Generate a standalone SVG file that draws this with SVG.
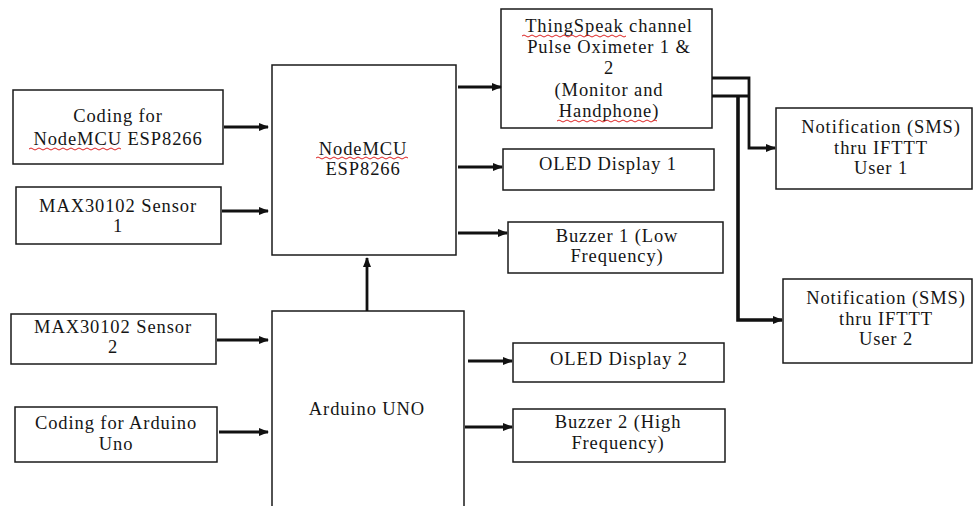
<svg xmlns="http://www.w3.org/2000/svg" width="973" height="506" viewBox="0 0 973 506">
<defs>
<style>
.box{fill:#fff;stroke:#1a1a1a;stroke-width:1.5}
.t{font-family:"Liberation Serif","Times New Roman",serif;font-size:18.5px;letter-spacing:0.9px;fill:#151515;text-anchor:middle}
.c{fill:none;stroke:#111;stroke-width:2.8}
.sq{fill:none;stroke:#d22;stroke-width:1}
</style>
<marker id="ah" markerUnits="userSpaceOnUse" markerWidth="10" markerHeight="8" refX="9" refY="4" orient="auto">
<path d="M0,0 L10,4 L0,8 Z" fill="#111"/>
</marker>
</defs>
<rect width="973" height="506" fill="#fff"/>

<g id="coding-nodemcu">
<rect class="box" x="13" y="90" width="210" height="74"/>
<text class="t" x="118" y="122">Coding for</text>
<text class="t" x="118" y="145">NodeMCU ESP8266</text>
<path class="sq" d="M29,149 q2,-2 4,0 t4,0 t4,0 t4,0 t4,0 t4,0 t4,0 t4,0 t4,0 t4,0 t4,0 t4,0 t4,0 t4,0 t4,0 t4,0 t4,0 t4,0 t4,0 t4,0 t4,0 t4,0 t4,0"/>
</g>

<g id="max-sensor-1">
<rect class="box" x="16" y="187" width="205" height="57"/>
<text class="t" x="118" y="211.5">MAX30102 Sensor</text>
<text class="t" x="118" y="232">1</text>
</g>

<g id="max-sensor-2">
<rect class="box" x="11" y="314" width="205" height="50"/>
<text class="t" x="113" y="332.5">MAX30102 Sensor</text>
<text class="t" x="113" y="353">2</text>
</g>

<g id="coding-arduino">
<rect class="box" x="15" y="407" width="202" height="55"/>
<text class="t" x="116" y="429">Coding for Arduino</text>
<text class="t" x="116" y="449.5">Uno</text>
</g>

<g id="nodemcu">
<rect class="box" x="272" y="65" width="184" height="190"/>
<text class="t" x="363" y="154.5">NodeMCU</text>
<text class="t" x="363" y="175">ESP8266</text>
<path class="sq" d="M316,158 q2,-2 4,0 t4,0 t4,0 t4,0 t4,0 t4,0 t4,0 t4,0 t4,0 t4,0 t4,0 t4,0 t4,0 t4,0 t4,0 t4,0 t4,0 t4,0 t4,0 t4,0 t4,0 t4,0 t4,0"/>
</g>

<g id="arduino">
<rect class="box" x="272" y="311" width="192" height="210"/>
<text class="t" x="367" y="415">Arduino UNO</text>
</g>

<g id="thingspeak">
<rect class="box" x="501" y="9" width="211" height="119"/>
<text class="t" x="609" y="32">ThingSpeak channel</text>
<text class="t" x="609" y="53">Pulse Oximeter 1 &amp;</text>
<text class="t" x="609" y="74">2</text>
<text class="t" x="609" y="96">(Monitor and</text>
<text class="t" x="609" y="117">Handphone)</text>
<path class="sq" d="M522,36 q2,-2 4,0 t4,0 t4,0 t4,0 t4,0 t4,0 t4,0 t4,0 t4,0 t4,0 t4,0 t4,0 t4,0 t4,0 t4,0 t4,0 t4,0 t4,0 t4,0 t4,0 t4,0 t4,0 t4,0 t4,0 t4,0 t4,0"/>
<path class="sq" d="M557,121 q2,-2 4,0 t4,0 t4,0 t4,0 t4,0 t4,0 t4,0 t4,0 t4,0 t4,0 t4,0 t4,0 t4,0 t4,0 t4,0 t4,0 t4,0 t4,0 t4,0 t4,0 t4,0 t4,0 t4,0 t4,0 t4,0"/>
</g>

<g id="oled-1">
<rect class="box" x="503" y="149" width="211" height="41"/>
<text class="t" x="608" y="170">OLED Display 1</text>
</g>

<g id="buzzer-1">
<rect class="box" x="508" y="222" width="215" height="51"/>
<text class="t" x="617" y="241.5">Buzzer 1 (Low</text>
<text class="t" x="617" y="262">Frequency)</text>
</g>

<g id="oled-2">
<rect class="box" x="513" y="343" width="211" height="39"/>
<text class="t" x="619" y="365">OLED Display 2</text>
</g>

<g id="buzzer-2">
<rect class="box" x="513" y="409" width="212" height="53"/>
<text class="t" x="618" y="428">Buzzer 2 (High</text>
<text class="t" x="618" y="448.5">Frequency)</text>
</g>

<g id="notif-1">
<rect class="box" x="776" y="108" width="196" height="81"/>
<text class="t" x="881" y="133">Notification (SMS)</text>
<text class="t" x="881" y="153.5">thru IFTTT</text>
<text class="t" x="881" y="174">User 1</text>
</g>

<g id="notif-2">
<rect class="box" x="783" y="279" width="189" height="84"/>
<text class="t" x="886" y="304">Notification (SMS)</text>
<text class="t" x="886" y="324.5">thru IFTTT</text>
<text class="t" x="886" y="345">User 2</text>
</g>

<g id="connectors">
<path class="c" marker-end="url(#ah)" d="M224,127 H268"/>
<path class="c" marker-end="url(#ah)" d="M222,211 H268"/>
<path class="c" marker-end="url(#ah)" d="M217,340 H268"/>
<path class="c" marker-end="url(#ah)" d="M219,432 H268"/>
<path class="c" marker-end="url(#ah)" d="M367,311 V258"/>
<path class="c" marker-end="url(#ah)" d="M458,87 H501"/>
<path class="c" marker-end="url(#ah)" d="M458,167 H502"/>
<path class="c" marker-end="url(#ah)" d="M458,233 H507"/>
<path class="c" marker-end="url(#ah)" d="M468,361 H512"/>
<path class="c" marker-end="url(#ah)" d="M465,427 H512"/>
<path class="c" marker-end="url(#ah)" d="M712,78 H749 V148 H775"/>
<path class="c" d="M712,96 H749"/>
<path class="c" style="stroke-width:3.6" marker-end="url(#ah)" d="M738,96 V320 H782"/>
</g>
</svg>
